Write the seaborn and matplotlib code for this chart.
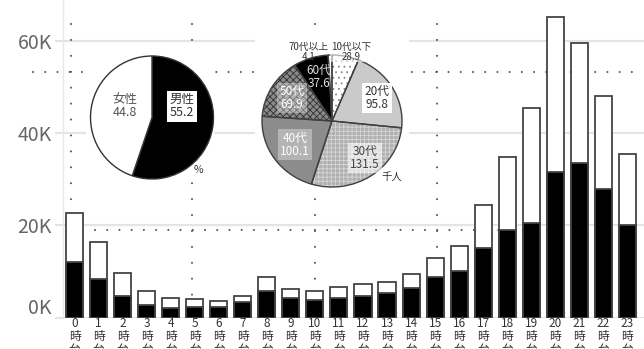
import matplotlib
matplotlib.use("Agg")
import matplotlib.pyplot as plt
import matplotlib.transforms as mtransforms
from matplotlib.lines import Line2D
import numpy as np
import pandas as pd
import seaborn as sns

# ---------------- data ----------------
hour_labels = ["0\n時\n台", "1\n時\n台", "2\n時\n台", "3\n時\n台", "4\n時\n台", "5\n時\n台",
               "6\n時\n台", "7\n時\n台", "8\n時\n台", "9\n時\n台", "10\n時\n台", "11\n時\n台",
               "12\n時\n台", "13\n時\n台", "14\n時\n台", "15\n時\n台", "16\n時\n台", "17\n時\n台",
               "18\n時\n台", "19\n時\n台", "20\n時\n台", "21\n時\n台", "22\n時\n台", "23\n時\n台"]
total_values = [22650, 16480, 9740, 5760, 4170, 4020, 3590, 4740, 8870, 6200, 5760, 6700,
                7350, 7780, 9520, 13000, 15540, 24460, 34900, 45500, 65300, 59700, 48200, 35500]
black_values = [12130, 8370, 4740, 2720, 2130, 2350, 2350, 3300, 5760, 4170, 3700, 4170,
                4740, 5260, 6350, 8870, 10170, 15170, 19000, 20500, 31600, 33600, 27900, 20100]
ytick_values = [0, 20000, 40000, 60000]
ytick_labels = ["0K", "20K", "40K", "60K"]

gender_labels = ["男性", "女性"]
gender_values = [55.2, 44.8]

age_labels = ["10代以下", "20代", "30代", "40代", "50代", "60代", "70代以上"]
age_values = [28.9, 95.8, 131.5, 100.1, 69.9, 37.6, 4.1]

# ---------------- style ----------------
sns.set_theme(style="white")
plt.rcParams["font.family"] = ["Noto Sans CJK JP", "DejaVu Sans"]
plt.rcParams["hatch.linewidth"] = 0.6

W, H = 644, 349
fig = plt.figure(figsize=(W / 100, H / 100), dpi=100)
fig.patch.set_facecolor("white")


def fr(x0, y0, x1, y1):
    return [x0 / W, 1 - y1 / H, (x1 - x0) / W, (y1 - y0) / H]


ax = fig.add_axes(fr(63, 0, 644, 317.5))
df = pd.DataFrame({"hour": hour_labels, "total": total_values, "black": black_values})

sns.barplot(data=df, x="hour", y="total", color="white", edgecolor="#444444",
            linewidth=1.3, width=0.71, saturation=1, ax=ax)
sns.barplot(data=df, x="hour", y="black", color="black", edgecolor="#444444",
            linewidth=1.3, width=0.71, saturation=1, ax=ax)

ax.set_xlabel("")
ax.set_ylabel("")
ax.set_xticks(range(len(hour_labels)))
ax.set_xticklabels(hour_labels, linespacing=1.0, fontsize=8.5, color="#333333")
ax.set_yticks(ytick_values)
ax.set_yticklabels(ytick_labels)
ax.tick_params(axis="y", left=True, length=6, width=1.5, color="#e4e4e4", pad=2,
               labelsize=14, labelcolor="#666666")
ax.tick_params(axis="x", bottom=False, length=0, pad=-0.5)
ax.grid(axis="y", color="#e4e4e4", linewidth=1.5)
ax.grid(axis="x", visible=False)
ax.set_axisbelow(True)
for s in ["top", "right", "bottom"]:
    ax.spines[s].set_visible(False)
ax.spines["left"].set_color("#e8e8e8")
ax.spines["left"].set_linewidth(1.0)

# lift the 0K label like the reference
t0 = ax.yaxis.get_major_ticks()[0].label1
t0.set_transform(t0.get_transform() + mtransforms.ScaledTranslation(0, 12 / 100, fig.dpi_scale_trans))

# decorative dotted guide lines (behind the bars)
lw = 1.5
def dotted(x0, y0, x1, y1, spacing_px):
    sp = spacing_px * 0.72 / lw
    ln = Line2D([x0 / W, x1 / W], [1 - y0 / H, 1 - y1 / H], transform=fig.transFigure,
                color="#555555", lw=lw, linestyle=(0, (0.01, sp)), dash_capstyle="round",
                zorder=0.8, clip_on=False)
    ax.add_line(ln)

dotted(33, 72, 644, 72, 12.2)
dotted(95, 230, 644, 230, 12.2)
for xv in [70.5, 192, 315, 437]:
    dotted(xv, 24, xv, 318, 15.9)

ax.set_xlim(-0.48, 23.69)
ax.set_ylim(0, 69000)

# ---------------- gender pie ----------------
g_rect = fr(86, 46, 214, 180)
bg1 = fig.add_axes(g_rect, zorder=1)
bg1.set_facecolor("white")
bg1.set_xticks([]); bg1.set_yticks([])
for s in bg1.spines.values():
    s.set_visible(False)

gcx, gcy, gr = 152, 117.5, 61.5
pa1 = fig.add_axes(g_rect, zorder=2)
pa1.pie(gender_values, colors=["black", "white"], startangle=90, counterclock=False,
        wedgeprops=dict(edgecolor="#333333", linewidth=1.0))
pa1.set_aspect("auto")
pa1.set_xlim((86 - gcx) / gr, (214 - gcx) / gr)
pa1.set_ylim(-(180 - gcy) / gr, (gcy - 46) / gr)
pa1.set_axis_off()
pa1.text(0.48, 0.18, f"{gender_labels[0]}\n{gender_values[0]}", ha="center", va="center",
         fontsize=9, color="#333333", linespacing=1.0,
         bbox=dict(boxstyle="square,pad=0.2", fc="white", ec="none"))
pa1.text(-0.44, 0.18, f"{gender_labels[1]}\n{gender_values[1]}", ha="center", va="center",
         fontsize=9, color="#555555", linespacing=1.0)
pa1.text(0.76, -0.86, "%", ha="center", va="center", fontsize=7.5, color="#333333")

# ---------------- age pie ----------------
a_rect = fr(255, 25, 409, 192)
bg2 = fig.add_axes(a_rect, zorder=1)
bg2.set_facecolor("white")
bg2.set_xticks([]); bg2.set_yticks([])
for s in bg2.spines.values():
    s.set_visible(False)

acx, acy, arx, ary = 332, 121, 70, 66
pa2 = fig.add_axes(a_rect, zorder=2)
face = ["white", "#cacaca", "#b0b0b0", "#8c8c8c", "#8a8a8a", "black", "white"]
hatches = ["...", None, "++++", None, "xxxxx", None, None]
hcols = ["#8a8a8a", "#cacaca", "#d6d6d6", "#8c8c8c", "#303030", "black", "white"]
wedges, _ = pa2.pie(age_values, colors=face, startangle=90, counterclock=False,
                    wedgeprops=dict(linewidth=0))
for w, h, hc in zip(wedges, hatches, hcols):
    w.set_edgecolor(hc)
    w.set_linewidth(0)
    if h:
        w.set_hatch(h)
pa2.pie(age_values, colors=["none"] * len(age_values), startangle=90, counterclock=False,
        wedgeprops=dict(edgecolor="#404040", linewidth=1.0, fill=False))
pa2.set_aspect("auto")
pa2.set_xlim((255 - acx) / arx, (409 - acx) / arx)
pa2.set_ylim(-(192 - acy) / ary, (acy - 25) / ary)
pa2.set_axis_off()

label_pos = [(0.27, 1.05), (0.64, 0.35), (0.47, -0.56), (-0.53, -0.36),
             (-0.57, 0.35), (-0.19, 0.67), (-0.34, 1.05)]
txt_col = ["#333333", "#333333", "#444444", "white", "white", "#dddddd", "#333333"]
box = [dict(boxstyle="square,pad=0.05", fc="white", ec="none", alpha=0.6),
       dict(boxstyle="square,pad=0.2", fc="white", ec="none"),
       dict(boxstyle="square,pad=0.2", fc="white", ec="none", alpha=0.6),
       dict(boxstyle="square,pad=0.2", fc="white", ec="none", alpha=0.35),
       dict(boxstyle="square,pad=0.2", fc="white", ec="none", alpha=0.35),
       None,
       None]
fs = [7, 8.5, 8.5, 8.5, 8.5, 8.5, 7]
for lab, val, (dx, dy), c, b, f in zip(age_labels, age_values, label_pos, txt_col, box, fs):
    pa2.text(dx, dy, f"{lab}\n{val}", ha="center", va="center", fontsize=f, color=c,
             linespacing=1.0, bbox=b)
pa2.text(0.86, -0.85, "千人", ha="center", va="center", fontsize=7.5, color="#333333")

fig.savefig("out.png", dpi=100, facecolor="white")
